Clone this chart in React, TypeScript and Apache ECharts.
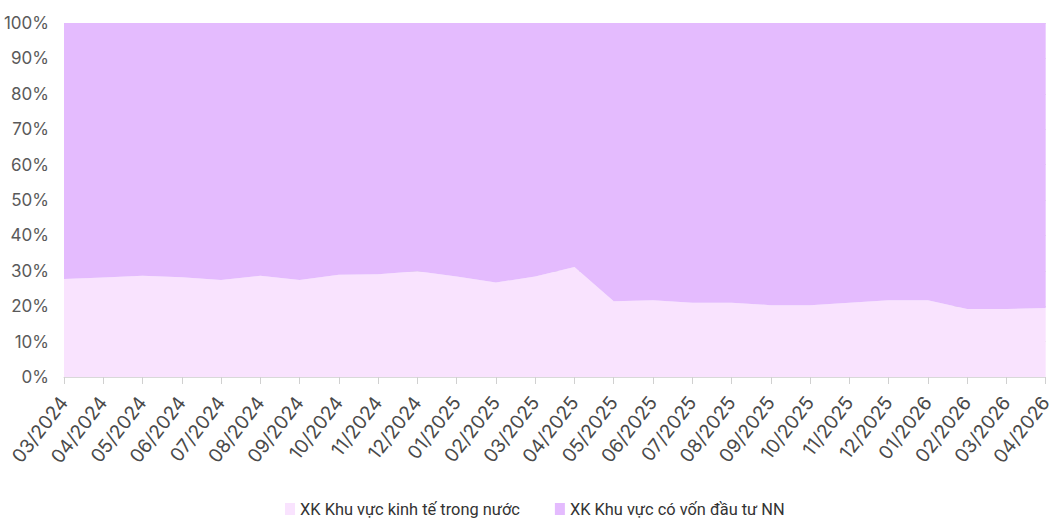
import React, { useEffect, useRef } from "react";
import * as echarts from "echarts";

const categories = [
  "03/2024", "04/2024", "05/2024", "06/2024", "07/2024", "08/2024", "09/2024",
  "10/2024", "11/2024", "12/2024", "01/2025", "02/2025", "03/2025", "04/2025",
  "05/2025", "06/2025", "07/2025", "08/2025", "09/2025", "10/2025", "11/2025",
  "12/2025", "01/2026", "02/2026", "03/2026", "04/2026",
];

const domesticShare = [
  27.7, 28.1, 28.6, 28.2, 27.4, 28.6, 27.4, 28.9, 29.0, 29.9, 28.4, 26.7, 28.4,
  31.1, 21.4, 21.7, 21.0, 21.0, 20.3, 20.3, 21.0, 21.7, 21.7, 19.2, 19.2, 19.5,
];

const foreignShare = domesticShare.map((v) => Math.round((100 - v) * 10) / 10);

const seriesNames = ["XK Khu vực kinh tế trong nước", "XK Khu vực có vốn đầu tư NN"];
const colors = ["#f9e3fe", "#e4bbfe"];

export default function App() {
  const ref = useRef<HTMLDivElement>(null);
  useEffect(() => {
    if (!ref.current) return;
    const chart = echarts.init(ref.current, null, { renderer: "svg" });
    const font = "Inter, 'Noto Sans', sans-serif";
    chart.setOption({
      animation: false,
      textStyle: { fontFamily: font },
      grid: { left: 64, right: 4, top: 23, bottom: 144, containLabel: false },
      legend: {
        top: 496,
        left: 280,
        itemWidth: 10,
        itemHeight: 12,
        itemGap: 35,
        icon: "rect",
        textStyle: { fontSize: 16.4, color: "#333", fontFamily: "Roboto, sans-serif" },
        data: seriesNames,
      },
      xAxis: {
        type: "category",
        data: categories,
        boundaryGap: false,
        axisLine: { lineStyle: { color: "#d9d9d9" } },
        axisTick: { show: true, alignWithLabel: true, length: 7, lineStyle: { color: "#d0d0d0" } },
        axisLabel: { rotate: 52, fontSize: 19, color: "#4a4a4a", margin: 22, interval: 0, fontFamily: font },
      },
      yAxis: {
        type: "value",
        min: 0,
        max: 100,
        interval: 10,
        axisLine: { show: false },
        axisTick: { show: false },
        splitLine: { show: true, lineStyle: { color: "#d9d9d9" } },
        axisLabel: { formatter: "{value}%", fontSize: 17, color: "#5a5a5a", margin: 15, fontFamily: font },
      },
      series: [
        {
          name: seriesNames[0],
          type: "line",
          stack: "total",
          data: domesticShare,
          symbol: "none",
          lineStyle: { width: 0 },
          areaStyle: { color: colors[0], opacity: 1 },
          itemStyle: { color: colors[0] },
        },
        {
          name: seriesNames[1],
          type: "line",
          stack: "total",
          data: foreignShare,
          symbol: "none",
          lineStyle: { width: 0 },
          areaStyle: { color: colors[1], opacity: 1 },
          itemStyle: { color: colors[1] },
        },
      ],
    });
    return () => chart.dispose();
  }, []);
  return <div ref={ref} style={{ width: 1055, height: 521, position: "absolute", left: 0, top: 0 }} />;
}
